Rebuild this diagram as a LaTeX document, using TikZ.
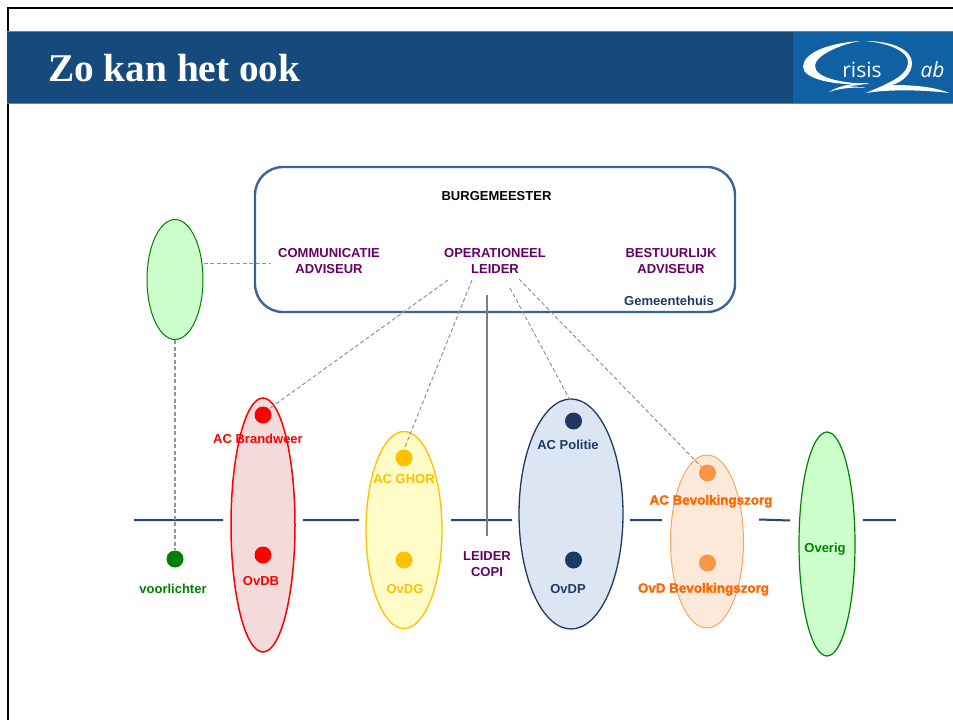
\documentclass[tikz,border=0pt]{standalone}
\usepackage{fontspec}
\setmainfont{Liberation Sans}
\newfontfamily\titlefont{Liberation Serif}
\newfontfamily\logofont{Open Sans}
\newfontfamily\fatfont[FakeBold=2]{Liberation Sans Bold}
\definecolor{hdr}{HTML}{174A7C}
\definecolor{hdrline}{HTML}{5B7FD8}
\definecolor{logoblue}{HTML}{1060A4}
\definecolor{boxline}{HTML}{3A6496}
\definecolor{navy}{HTML}{1F3864}
\definecolor{navyline}{HTML}{1F497D}
\definecolor{purp}{HTML}{660066}
\definecolor{ornge}{HTML}{FF6600}
\definecolor{orngedot}{HTML}{F79646}
\definecolor{yel}{HTML}{FFC000}
\definecolor{grn}{HTML}{008000}
\tikzset{
  x=1pt,y=-1pt,
  oval/.style={ellipse,inner sep=0pt,minimum width=2*#1},
  lab/.style={font=\bfseries\fontsize{13}{16}\selectfont,align=center,inner sep=0pt,yshift=-0.7pt},
  fatlab/.style={align=center,inner sep=0pt,text=ornge,yshift=-0.7pt,font=\fatfont\fontsize{13.4}{16}\selectfont},
  dot/.style={circle,inner sep=0pt,minimum size=17pt},
  dashcon/.style={draw=gray!85,line width=1pt,dash pattern=on 4pt off 2.5pt},
  hline/.style={draw=navyline,line width=2pt},
}
\usetikzlibrary{shapes.geometric}
\begin{document}
\begin{tikzpicture}
\useasboundingbox (0,0) rectangle (953,720);
\fill[white] (0,0) rectangle (953,720);
% frame
\draw[black,line width=2pt] (8,720) -- (8,8) -- (953,8);
% header
\fill[hdr] (7,31) rectangle (953,103);
\draw[hdrline,line width=0.8pt] (7,31) -- (953,31) (7,103) -- (953,103);
\fill[logoblue] (793,32) rectangle (953,103);
\node[anchor=west,inner sep=0pt,text=white,font=\titlefont\bfseries\fontsize{39.3}{42}\selectfont] (title) at (48,68) {Zo kan het ook};
% logo
\fill[white] (860,41) .. controls (828,43) and (803,53) .. (803,67) .. controls (803,79) and (835,86) .. (868,84)
  .. controls (842,83) and (815,78) .. (815,66) .. controls (815,56) and (838,45) .. (860,41) -- cycle;
\fill[white] (865,41) .. controls (893,41) and (912,50) .. (912,63) .. controls (912,73) and (903,82) .. (892,85)
  .. controls (915,85) and (935,87) .. (949,93) .. controls (925,90) and (890,89) .. (866,93)
  .. controls (872,90) and (883,86) .. (888,83) .. controls (901,77) and (908,70) .. (908,62) .. controls (908,52) and (890,43) .. (865,41) -- cycle;
\fill[white] (829,92) .. controls (838,86) and (852,83) .. (870,83) .. controls (860,85) and (850,86) .. (846,87) .. controls (855,86) and (862,87) .. (866,88) .. controls (855,87) and (840,88) .. (829,92) -- cycle;
\node[text=white,inner sep=0pt,font=\logofont\fontsize{21}{22}\selectfont] (logoa) at (862,70) {risis};
\node[text=white,inner sep=0pt,font=\logofont\itshape\fontsize{21}{22}\selectfont] (logob) at (932.5,70) {ab};
% horizontal line
\coordinate (h1a) at (134,520); \coordinate (h1b) at (223,520);
\coordinate (h2a) at (303,520); \coordinate (h2b) at (359,520);
\coordinate (h3a) at (451,520); \coordinate (h3b) at (512,520);
\coordinate (h4a) at (630,520); \coordinate (h4b) at (662,520);
\coordinate (h5a) at (759,519.5); \coordinate (h5b) at (790,520.5);
\coordinate (h6a) at (863,520); \coordinate (h6b) at (896,520);
\draw[hline] (h1a)--(h1b) (h2a)--(h2b) (h3a)--(h3b) (h4a)--(h4b) (h5a)--(h5b) (h6a)--(h6b);
% main box
\node[draw=boxline,line width=2.4pt,rounded corners=28pt,minimum width=480pt,minimum height=145pt,inner sep=0pt] (gem) at (495,239.5) {};
% ellipses
\node[oval=28pt,minimum height=120pt,draw=grn,fill={rgb,255:red,204;green,255;blue,204},line width=1pt] (vl) at (175,279.5) {};
\node[oval=32pt,minimum height=254pt,draw=red,fill=red!65!black!14,line width=1.5pt] (brw) at (263,525) {};
\node[oval=38pt,minimum height=197pt,draw=yel,fill=yellow!22,line width=1.3pt] (ghor) at (404,530) {};
\node[oval=52pt,minimum height=230pt,draw=navy,fill={rgb,255:red,220;green,230;blue,242},line width=1.3pt] (pol) at (571,514) {};
\node[oval=36.5pt,minimum height=173pt,draw=orngedot!85,fill={rgb,255:red,253;green,233;blue,217},line width=1pt] (bev) at (707,541.5) {};
\node[oval=28pt,minimum height=224pt,draw=grn,fill={rgb,255:red,204;green,255;blue,204},line width=1.2pt] (ovr) at (827,544) {};
% dots
\node[dot,fill=red] (d1) at (263,415) {};
\node[dot,fill=red] (d2) at (263,555) {};
\node[dot,fill=yel] (d3) at (404,458) {};
\node[dot,fill=yel] (d4) at (404,560) {};
\node[dot,fill=navy] (d5) at (573.5,421) {};
\node[dot,fill=navy] (d6) at (573.5,560) {};
\node[dot,fill=orngedot] (d7) at (707.5,473) {};
\node[dot,fill=orngedot] (d8) at (707.5,563) {};
\node[dot,fill=grn] (d9) at (175,559) {};
% texts
\node[lab,text=black] (burg) at (496.5,195) {BURGEMEESTER};
\node[lab,text=purp] (comm) at (329,260) {COMMUNICATIE\\ADVISEUR};
\node[lab,text=purp] (oper) at (495,260) {OPERATIONEEL\\LEIDER};
\node[lab,text=purp] (best) at (671,260) {BESTUURLIJK\\ADVISEUR};
\node[lab,text=navy] (gh) at (669,300) {Gemeentehuis};
\node[lab,text=red] (acb) at (258,438) {AC Brandweer};
\node[lab,text=red] (ovdb) at (261,580) {OvDB};
\node[lab,text=grn] (voor) at (173,588) {voorlichter};
\node[lab,text=yel] (acg) at (404,478) {AC GHOR};
\node[lab,text=yel] (ovdg) at (405,588) {OvDG};
\node[lab,text=purp] (copi) at (487,563) {LEIDER\\COPI};
\node[lab,text=navy] (acp) at (568,444) {AC Politie};
\node[lab,text=navy] (ovdp) at (568,588) {OvDP};
\node[fatlab] (acbz) at (711,500.5) {AC Bevolkingszorg};
\node[fatlab] (ovbz) at (703.5,588.5) {OvD Bevolkingszorg};
\node[lab,text=grn] (ovrt) at (825,548) {Overig};
% connectors
\coordinate (c1) at (271,263);
\draw[dashcon] (vl.east |- c1) -- (c1);
\draw[dashcon,line width=1.2pt] (vl.south) -- (d9.north);
\draw[draw=gray,line width=2pt] (487,295) coordinate (lc1) -- (487,536) coordinate (lc2);
\coordinate (o1) at (448,280); \coordinate (o2) at (472,280);
\coordinate (o3) at (510,288); \coordinate (o4) at (519,279);
\coordinate (e5) at (570,400);
\draw[dashcon] (o1) -- (d1.north east);
\draw[dashcon] (o2) -- (d3.north);
\draw[dashcon] (o3) -- (e5);
\draw[dashcon] (o4) -- (d7.north west);
\end{tikzpicture}
\end{document}
